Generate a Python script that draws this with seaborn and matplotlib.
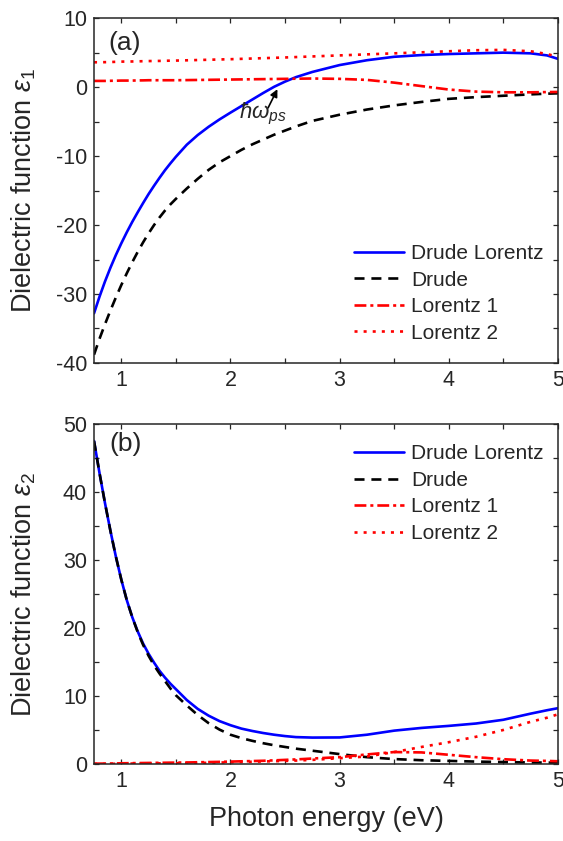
import matplotlib
matplotlib.use("Agg")
import matplotlib.pyplot as plt
from matplotlib.ticker import MultipleLocator
import seaborn as sns
import pandas as pd

# ---- data ----
energy = [0.75, 0.8, 0.85, 0.9, 0.95, 1.0, 1.05, 1.1, 1.15, 1.2, 1.25, 1.3, 1.35, 1.4, 1.45,
          1.5, 1.6, 1.7, 1.8, 1.9, 2.0, 2.1, 2.2, 2.3, 2.4, 2.5, 2.6, 2.75,
          3.0, 3.25, 3.5, 3.75, 4.0, 4.25, 4.5, 4.75, 4.9, 5.0]

eps1_drude_lorentz = [-32.8, -30.4, -28.2, -26.2, -24.35, -22.65, -21.05, -19.55, -18.15, -16.8,
                      -15.5, -14.3, -13.15, -12.05, -11.05, -10.1, -8.35, -6.95, -5.75, -4.68,
                      -3.7, -2.75, -1.8, -0.85, 0.05, 0.8, 1.45, 2.2,
                      3.2, 3.9, 4.4, 4.65, 4.8, 4.9, 5.0, 4.9, 4.6, 4.1]
eps1_drude = [-38.8, -36.5, -34.4, -32.4, -30.5, -28.7, -27.0, -25.4, -23.9, -22.5,
              -21.2, -20.0, -18.9, -17.9, -17.0, -16.2, -14.7, -13.3, -12.0, -10.9,
              -10.0, -9.1, -8.3, -7.6, -6.9, -6.3, -5.7, -4.9,
              -4.0, -3.25, -2.65, -2.15, -1.7, -1.45, -1.25, -1.05, -0.95, -0.9]
eps1_lorentz1 = [0.9, 0.9, 0.9, 0.92, 0.93, 0.95, 0.95, 0.95, 0.97, 0.98, 1.0, 1.0, 1.0, 1.0, 1.0,
                 1.0, 1.02, 1.04, 1.06, 1.08, 1.1, 1.12, 1.14, 1.16, 1.18, 1.2, 1.22, 1.25,
                 1.2, 1.05, 0.65, 0.15, -0.35, -0.65, -0.75, -0.75, -0.72, -0.7]
eps1_lorentz2 = [3.6, 3.61, 3.62, 3.64, 3.67, 3.7, 3.71, 3.72, 3.74, 3.76, 3.78, 3.79, 3.8, 3.82, 3.84,
                 3.85, 3.89, 3.93, 3.97, 4.01, 4.05, 4.1, 4.15, 4.2, 4.25, 4.3, 4.36, 4.45,
                 4.6, 4.75, 4.9, 5.05, 5.2, 5.35, 5.4, 5.2, 4.8, 4.4]

eps2_drude_lorentz = [47.5, 42.8, 38.4, 34.3, 30.5, 27.1, 24.1, 21.6, 19.5, 17.7,
                      16.2, 14.9, 13.7, 12.7, 11.8, 11.0, 9.4, 8.1, 7.1, 6.3,
                      5.7, 5.2, 4.85, 4.55, 4.3, 4.1, 3.95, 3.88,
                      3.9, 4.3, 4.9, 5.3, 5.6, 5.95, 6.5, 7.4, 7.9, 8.2]
eps2_drude = [47.5, 42.8, 38.4, 34.3, 30.5, 27.1, 24.1, 21.6, 19.4, 17.5,
              15.9, 14.5, 13.3, 12.2, 11.1, 10.1, 8.6, 7.2, 6.0, 5.05,
              4.3, 3.8, 3.4, 3.05, 2.75, 2.5, 2.25, 1.95,
              1.45, 1.0, 0.72, 0.55, 0.45, 0.35, 0.28, 0.22, 0.2, 0.2]
eps2_lorentz1 = [0.05, 0.05, 0.06, 0.07, 0.08, 0.1, 0.11, 0.12, 0.13, 0.14, 0.15, 0.16, 0.17, 0.18, 0.19,
                 0.2, 0.22, 0.25, 0.28, 0.31, 0.35, 0.39, 0.43, 0.47, 0.53, 0.6, 0.67, 0.8,
                 1.0, 1.4, 1.75, 1.7, 1.35, 1.0, 0.7, 0.5, 0.45, 0.4]
eps2_lorentz2 = [0.0, 0.0, 0.0, 0.02, 0.03, 0.05, 0.05, 0.06, 0.07, 0.07, 0.08, 0.08, 0.09, 0.09, 0.1,
                 0.1, 0.12, 0.14, 0.17, 0.21, 0.25, 0.29, 0.33, 0.37, 0.41, 0.45, 0.5, 0.6,
                 0.85, 1.1, 1.75, 2.5, 3.2, 4.0, 5.0, 6.2, 6.8, 7.3]

series_names = ["Drude Lorentz", "Drude", "Lorentz 1", "Lorentz 2"]
x_ticks = [1, 2, 3, 4, 5]
y1_ticks = [-40, -30, -20, -10, 0, 10]
y2_ticks = [0, 10, 20, 30, 40, 50]

# ---- style ----
sns.set_style("ticks")
plt.rcParams["font.family"] = ["Liberation Sans", "DejaVu Sans"]
plt.rcParams["axes.unicode_minus"] = False
plt.rcParams["mathtext.fontset"] = "custom"
plt.rcParams["mathtext.rm"] = "Liberation Sans"
plt.rcParams["mathtext.it"] = "Liberation Sans:italic"
plt.rcParams["mathtext.bf"] = "Liberation Sans:bold"

LW = 1.9
styles = {
    "Drude Lorentz": dict(color="#0000FF", linestyle="-"),
    "Drude": dict(color="black", linestyle=(0, (3.8, 2.6))),
    "Lorentz 1": dict(color="#FF0000", linestyle=(0, (4.5, 1.5, 1.15, 1.5))),
    "Lorentz 2": dict(color="#FF0000", linestyle=(0, (1.15, 2.3))),
}

fig = plt.figure(figsize=(5.63, 8.41), dpi=100)
ax1 = fig.add_axes([0.167, 0.5684, 0.824, 0.410])
ax2 = fig.add_axes([0.167, 0.0916, 0.824, 0.4043])

panel_data = [
    (ax1, [eps1_drude_lorentz, eps1_drude, eps1_lorentz1, eps1_lorentz2]),
    (ax2, [eps2_drude_lorentz, eps2_drude, eps2_lorentz1, eps2_lorentz2]),
]

for ax, ys in panel_data:
    for name, y in zip(series_names, ys):
        df = pd.DataFrame({"E": energy, "eps": y})
        sns.lineplot(data=df, x="E", y="eps", ax=ax, label=name, lw=LW,
                     **styles[name])

for ax in (ax1, ax2):
    ax.set_xlim(0.75, 5.0)
    ax.set_xticks(x_ticks)
    ax.xaxis.set_minor_locator(MultipleLocator(0.5))
    ax.yaxis.set_minor_locator(MultipleLocator(5))
    ax.tick_params(which="both", direction="in", top=True, right=True,
                   length=3.3, width=0.9, labelsize=15.5, pad=5)
    for sp in ax.spines.values():
        sp.set_linewidth(1.1)
        sp.set_visible(True)
    ax.set_xlabel("")

ax1.set_ylim(-40, 10)
ax1.set_yticks(y1_ticks)
ax2.set_ylim(0, 50)
ax2.set_yticks(y2_ticks)

ax1.set_ylabel(r"Dielectric function $\varepsilon_1$", fontsize=19.5)
ax2.set_ylabel(r"Dielectric function $\varepsilon_2$", fontsize=19.5)
ax1.yaxis.set_label_coords(-0.121, 0.5)
ax2.yaxis.set_label_coords(-0.121, 0.5)
ax2.set_xlabel("Photon energy (eV)", fontsize=19.5)
ax2.xaxis.set_label_coords(0.5, -0.125)

ax1.text(0.03, 0.928, "(a)", transform=ax1.transAxes, fontsize=19, va="center", ha="left")
ax2.text(0.034, 0.941, "(b)", transform=ax2.transAxes, fontsize=19, va="center", ha="left")

# plasma annotation
ax1.annotate("", xy=(2.43, -0.3), xytext=(2.345, -3.0),
             arrowprops=dict(arrowstyle="-|>", color="black", lw=1.2, mutation_scale=11,
                             shrinkA=0, shrinkB=0))
ax1.text(2.08, -4.6, r"$\hbar\omega_{ps}$", fontsize=16, ha="left", va="baseline")

for ax, top in ((ax1, 0.345), (ax2, 0.94)):
    ax.legend(loc="upper left", bbox_to_anchor=(0.56, top), frameon=False,
              fontsize=15, handlelength=2.4, handletextpad=0.35,
              labelspacing=0.36, borderpad=0, borderaxespad=0)

fig.savefig("out.png", dpi=100)
